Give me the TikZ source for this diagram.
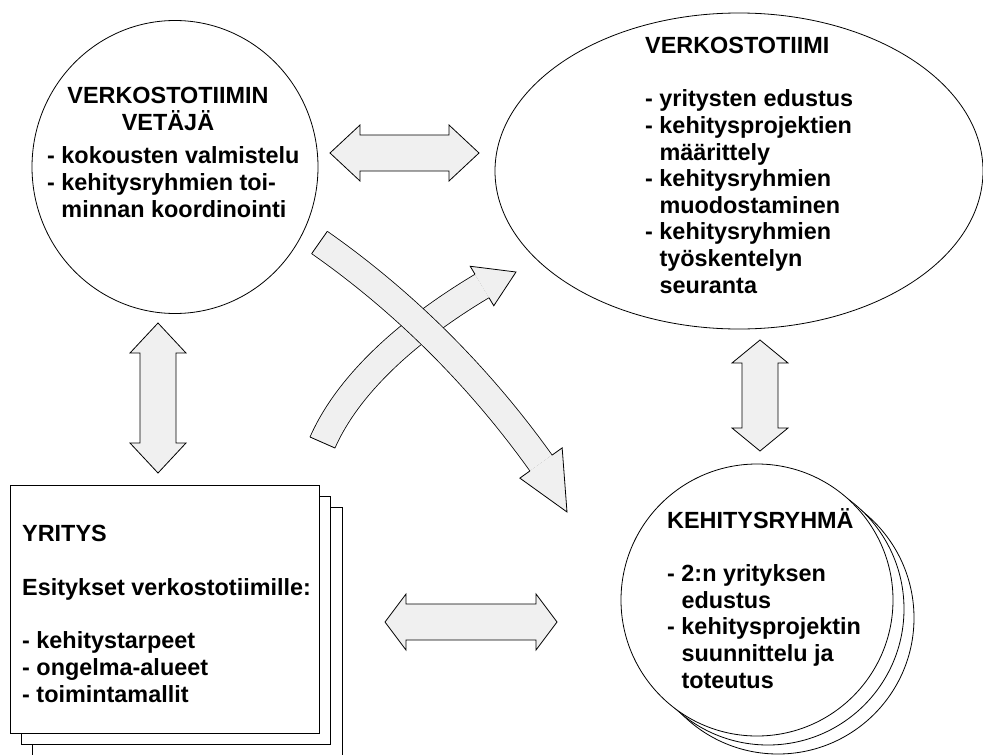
\documentclass[tikz,border=0pt]{standalone}
\usepackage{fontspec}
\setmainfont{Liberation Sans}
\usetikzlibrary{shapes.geometric,calc}
\definecolor{arrowfill}{RGB}{240,240,240}
\tikzset{
  outline/.style={draw=black, line width=0.8pt},
  % multi-line texts are anchored at the baseline of their last line
  txt/.style={font=\fontsize{23.4}{26.6}\selectfont\bfseries, inner sep=0pt, align=left},
  blockarrow/.style={draw=black, line width=0.8pt, fill=arrowfill, line join=miter},
  bandarrow/.style={line width=0.8pt, double=arrowfill, double distance=26.4pt},
  % straight double-headed block arrow: #1 total length, #2 head length
  pics/dblarrow/.style n args={2}{code={
    \draw[blockarrow] (0,0) -- (#2,-28) -- (#2,-18) -- ({#1-#2},-18) -- ({#1-#2},-28)
      -- (#1,0) -- ({#1-#2},28) -- ({#1-#2},18) -- (#2,18) -- (#2,28) -- cycle;}}
}
\begin{document}
\begin{tikzpicture}[x=1pt, y=-1pt]
\useasboundingbox (0,0) rectangle (983,755);
\clip (0,0) rectangle (983,755);

% network team leader
\node[outline, ellipse, fill=white, minimum width=286, minimum height=293] (leader) at (175,167) {};
\node[txt, align=center, anchor=base] (leadertitle) at (168,130) {VERKOSTOTIIMIN\\VETÄJÄ};
\node[txt, anchor=base west] (leadertasks) at (47,217)
  {- kokousten valmistelu\\- kehitysryhmien toi-\\\phantom{- }minnan koordinointi};

% network team
\node[outline, ellipse, fill=white, minimum width=488, minimum height=316] (team) at (739,171) {};
\node[txt, anchor=base west] (teamtitle) at (645,53) {VERKOSTOTIIMI};
\node[txt, anchor=base west] (teamtasks) at (645,293)
  {- yritysten edustus\\- kehitysprojektien\\\phantom{- }määrittely\\- kehitysryhmien\\\phantom{- }muodostaminen\\- kehitysryhmien\\\phantom{- }työskentelyn\\\phantom{- }seuranta};

% companies (stacked sheets)
\draw[outline, fill=white] (32,507) rectangle (342,770);
\draw[outline, fill=white] (21,496) rectangle (330,744);
\node[outline, fill=white, rectangle, inner sep=0pt, minimum width=309, minimum height=248, anchor=north west] (company) at (10,485) {};
\node[txt, anchor=base west] (companytitle) at (22,541) {YRITYS};
\node[txt, anchor=base west] (companyhead) at (22,595) {Esitykset verkostotiimille:};
\node[txt, anchor=base west] (companylist) at (22,702)
  {- kehitystarpeet\\- ongelma-alueet\\- toimintamallit};

% development groups (stacked circles)
\draw[outline, fill=white] (778,618) circle [radius=136];
\draw[outline, fill=white] (768,609) circle [radius=136];
\node[outline, circle, fill=white, inner sep=0pt, minimum size=272] (group) at (757,600) {};
\node[txt, anchor=base west] (grouptitle) at (667,528) {KEHITYSRYHMÄ};
\node[txt, anchor=base west] (grouptasks) at (667,688)
  {- 2:n yrityksen\\\phantom{- }edustus\\- kehitysprojektin\\\phantom{- }suunnittelu ja\\\phantom{- }toteutus};

% straight two-way arrows
\pic at (330,153) {dblarrow={149}{30}};
\pic[rotate=-90] at (158,323) {dblarrow={150}{30}};
\pic[rotate=-90] at (760,340) {dblarrow={111}{23}};
\pic at (385,622) {dblarrow={172}{21}};

% curved arrow: company -> network team
\coordinate (bT) at (322.5,442.5);
\coordinate (bC1) at (350,380);
\coordinate (bC2) at (415,326);
\coordinate (bE) at (482,286);
\coordinate (bP) at (516,272);
\draw[bandarrow] (bT) .. controls (bC1) and (bC2) .. (bE);
\draw[line width=0.8pt] ($(bT)!13.6pt!90:(bC1)$) -- ($(bT)!13.6pt!-90:(bC1)$);
\fill[arrowfill] ($(bE)!13.6pt!90:(bC2)$) -- ($(bE)!23pt!90:(bC2)$) -- (bP)
  -- ($(bE)!23pt!-90:(bC2)$) -- ($(bE)!13.6pt!-90:(bC2)$) -- cycle;
\draw[line width=0.8pt, line join=miter] ($(bE)!13.6pt!90:(bC2)$) -- ($(bE)!23pt!90:(bC2)$) -- (bP)
  -- ($(bE)!23pt!-90:(bC2)$) -- ($(bE)!13.6pt!-90:(bC2)$);

% curved arrow: leader -> development group
\coordinate (aT) at (319.5,242.5);
\coordinate (aC1) at (406,303);
\coordinate (aC2) at (481,379);
\coordinate (aE) at (541,463);
\coordinate (aP) at (567,512);
\draw[bandarrow] (aT) .. controls (aC1) and (aC2) .. (aE);
\draw[line width=0.8pt] ($(aT)!13.6pt!90:(aC1)$) -- ($(aT)!13.6pt!-90:(aC1)$);
\fill[arrowfill] ($(aE)!13.6pt!90:(aC2)$) -- ($(aE)!26pt!90:(aC2)$) -- (aP)
  -- ($(aE)!26pt!-90:(aC2)$) -- ($(aE)!13.6pt!-90:(aC2)$) -- cycle;
\draw[line width=0.8pt, line join=miter] ($(aE)!13.6pt!90:(aC2)$) -- ($(aE)!26pt!90:(aC2)$) -- (aP)
  -- ($(aE)!26pt!-90:(aC2)$) -- ($(aE)!13.6pt!-90:(aC2)$);
\end{tikzpicture}
\end{document}
